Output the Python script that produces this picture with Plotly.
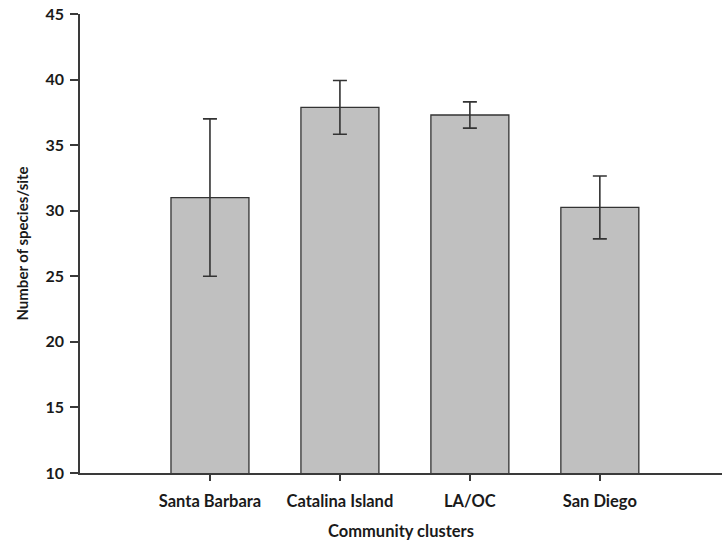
import plotly.graph_objects as go

# Mean species richness per site for each community cluster
clusters = ["Santa Barbara", "Catalina Island", "LA/OC", "San Diego"]
mean_species = [31.0, 37.88, 37.3, 30.25]
error = [6.0, 2.05, 1.0, 2.4]

y_ticks = [10, 15, 20, 25, 30, 35, 40, 45]

axis_color = "#3a3a3a"
font_family = "Lato, 'Open Sans', sans-serif"

fig = go.Figure(
    go.Bar(
        x=clusters,
        y=mean_species,
        width=0.6,
        marker=dict(color="#c0c0c0", line=dict(color="#333333", width=1.3)),
        error_y=dict(
            type="data",
            array=error,
            visible=True,
            color="#333333",
            thickness=1.6,
            width=7,
        ),
    )
)

fig.update_layout(
    width=722,
    height=548,
    margin=dict(l=80, r=0, t=14, b=75),
    plot_bgcolor="white",
    paper_bgcolor="white",
    showlegend=False,
    bargap=0.4,
    font=dict(family=font_family, color="#1a1a1a"),
)

fig.update_xaxes(
    type="category",
    range=[-1, 3.94],
    showline=True,
    linecolor=axis_color,
    linewidth=1.6,
    ticks="outside",
    ticklen=6,
    tickwidth=1.5,
    tickcolor=axis_color,
    ticklabelstandoff=6,
    tickfont=dict(size=16.5, family=font_family, weight="bold"),
    showgrid=False,
    title=dict(
        text="Community clusters",
        font=dict(size=16.5, family=font_family, weight="bold"),
        standoff=16,
    ),
)

fig.update_yaxes(
    range=[10, 45],
    tickvals=y_ticks,
    showline=True,
    linecolor=axis_color,
    linewidth=1.6,
    ticks="outside",
    ticklen=8,
    tickwidth=1.5,
    tickcolor=axis_color,
    ticklabelstandoff=3,
    tickfont=dict(size=16, family=font_family, weight="bold"),
    showgrid=False,
    zeroline=False,
    title=dict(
        text="Number of species/site",
        font=dict(size=15, family=font_family, weight="bold"),
        standoff=13,
    ),
)

fig.write_html("out.html")
